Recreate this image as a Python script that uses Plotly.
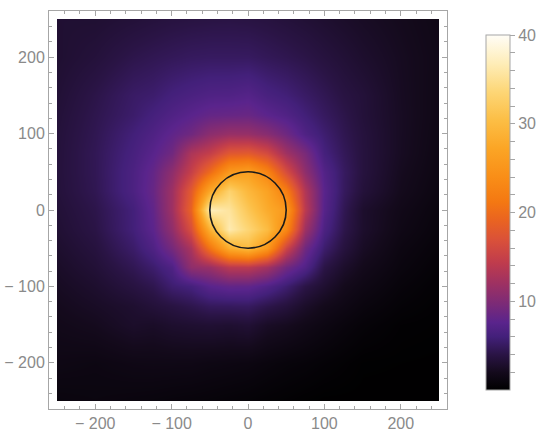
import plotly.graph_objects as go

# grid positions (sample points)
x_pos = [-250, -200, -150, -125, -100, -75, -50, -25, 0, 25, 50, 75, 100, 125, 150, 200, 250]
y_pos = [-250, -200, -150, -125, -100, -75, -50, -25, 0, 25, 50, 75, 100, 125, 150, 200, 250]

# field values, one row per y position (bottom to top)
field = [
    [1.0, 1.09, 0.98, 0.92, 0.83, 0.76, 0.69, 0.59, 0.5, 0.36, 0.26, 0.14, 0.05, 0.05, 0.05, 0.05, 0.05],
    [1.42, 1.3, 1.51, 1.55, 1.54, 1.52, 1.39, 1.31, 1.2, 0.99, 0.79, 0.66, 0.47, 0.3, 0.13, 0.1, 0.07],
    [1.79, 2.08, 2.7, 2.56, 2.87, 3.01, 3.12, 3.01, 3.2, 2.48, 2.15, 1.69, 1.3, 0.91, 0.6, 0.24, 0.16],
    [2.03, 2.47, 2.97, 3.43, 3.83, 4.29, 4.84, 4.91, 5.0, 4.22, 3.57, 2.63, 1.9, 1.43, 0.99, 0.48, 0.23],
    [2.3, 2.88, 3.8, 4.37, 5.6, 6.15, 7.55, 8.1, 8.0, 7.0, 5.63, 4.03, 3.0, 1.97, 1.45, 0.73, 0.33],
    [2.58, 3.31, 4.54, 5.49, 6.85, 11.0, 11.7, 13.9, 14.0, 12.3, 9.05, 7.0, 4.03, 2.74, 1.9, 1.01, 0.49],
    [2.87, 3.67, 5.34, 6.81, 9.31, 12.8, 21.0, 28.2, 30.0, 25.4, 15.5, 8.9, 5.48, 3.64, 2.42, 1.23, 0.68],
    [3.14, 4.02, 5.96, 7.69, 11.1, 16.7, 29.0, 36.4, 33.5, 30.1, 23.3, 12.0, 6.65, 4.22, 2.79, 1.52, 0.86],
    [3.3, 4.2, 6.0, 8.0, 12.0, 19.0, 37.0, 35.5, 31.5, 28.0, 25.5, 14.0, 7.3, 4.5, 2.8, 1.7, 1.0],
    [3.48, 4.48, 6.61, 8.38, 11.95, 18.0, 27.7, 33.1, 29.5, 26.8, 22.0, 13.3, 7.5, 4.91, 3.44, 1.98, 1.2],
    [3.52, 4.57, 6.59, 8.16, 10.92, 14.9, 20.0, 25.6, 26.5, 22.8, 16.5, 10.96, 7.09, 4.99, 3.66, 2.13, 1.33],
    [3.51, 4.59, 6.3, 7.46, 8.97, 13.0, 14.75, 17.7, 18.0, 16.1, 12.1, 9.5, 6.15, 4.71, 3.66, 2.29, 1.42],
    [3.47, 4.47, 5.95, 6.83, 7.9, 8.97, 10.77, 11.6, 11.5, 10.5, 8.85, 6.85, 5.6, 4.43, 3.6, 2.32, 1.5],
    [3.37, 4.32, 5.41, 6.17, 6.9, 7.57, 8.23, 8.38, 8.5, 7.69, 6.96, 5.92, 4.98, 4.17, 3.43, 2.33, 1.57],
    [3.24, 4.12, 5.2, 5.49, 6.1, 6.51, 6.86, 6.92, 7.2, 6.39, 5.88, 5.19, 4.53, 3.84, 3.4, 2.28, 1.61],
    [3.03, 3.5, 4.23, 4.5, 4.73, 4.94, 5.02, 5.01, 5.0, 4.69, 4.41, 4.08, 3.66, 3.25, 2.85, 2.2, 1.68],
    [3.1, 3.09, 3.4, 3.59, 3.76, 3.86, 3.94, 3.98, 3.9, 3.75, 3.51, 3.24, 2.97, 2.68, 2.42, 2.01, 1.6],
]

circle_radius = 50
axis_ticks = [-200, -100, 0, 100, 200]
axis_labels = ["\u2212 200", "\u2212 100", "0", "100", "200"]
bar_ticks = list(range(2, 41, 2))
bar_labels = [str(v) if v % 10 == 0 else "" for v in bar_ticks]

# sunset-like scale (black -> purple -> orange -> white)
sunset = [
    [0.00, "#000000"], [0.05, "#140a1c"], [0.10, "#2a1445"], [0.15, "#43207a"],
    [0.19, "#5a248c"], [0.24, "#7a2a78"], [0.30, "#9e3162"], [0.36, "#c03c4c"],
    [0.42, "#d9503a"], [0.48, "#ea6420"], [0.53, "#f47812"], [0.60, "#f98e17"],
    [0.68, "#fba525"], [0.76, "#fcbe45"], [0.84, "#fdd676"], [0.92, "#feedb8"],
    [1.00, "#fffdf7"],
]

W, H = 546, 439
GREY = "#a6a6a6"
LABEL = dict(family="Liberation Sans, Arial, sans-serif", size=16, color="#8a8a8a")

fig = go.Figure()

fig.add_trace(go.Heatmap(
    x=x_pos, y=y_pos, z=field,
    zmin=0, zmax=40, zsmooth="best",
    colorscale=sunset,
    colorbar=dict(
        x=486 / W, xanchor="left", y=1 - 212.5 / H, yanchor="middle",
        len=355 / H, lenmode="fraction", thickness=24, thicknessmode="pixels",
        outlinecolor=GREY, outlinewidth=1, xpad=0, ypad=0,
        ticks="outside", ticklen=5, tickcolor=GREY,
        tickvals=bar_ticks, ticktext=bar_labels, tickfont=LABEL,
    ),
    hoverinfo="skip",
))

# empty trace so the framed axes get drawn
fig.add_trace(go.Scatter(x=[None], y=[None], xaxis="x2", yaxis="y2",
                         showlegend=False, hoverinfo="skip"))

fig.add_shape(type="circle", xref="x", yref="y",
              x0=-circle_radius, x1=circle_radius, y0=-circle_radius, y1=circle_radius,
              line=dict(color="#1a1a1a", width=1.6))

frame = dict(
    showline=True, linecolor=GREY, linewidth=1, mirror="allticks",
    ticks="inside", ticklen=5, tickcolor=GREY,
    tickvals=axis_ticks, ticktext=axis_labels, tickfont=LABEL,
    minor=dict(ticks="inside", ticklen=3, dtick=20, tick0=0, tickcolor=GREY),
    showgrid=False, zeroline=False, range=[-260.5, 260.5], fixedrange=True,
)

fig.update_layout(
    width=W, height=H,
    margin=dict(l=0, r=0, t=0, b=0),
    paper_bgcolor="white", plot_bgcolor="rgba(0,0,0,0)",
    showlegend=False,
    xaxis=dict(domain=[57 / W, 439 / W], range=[-250, 250], visible=False),
    yaxis=dict(domain=[1 - 401 / H, 1 - 19 / H], range=[-250, 250], visible=False),
    xaxis2=dict(domain=[49 / W, 447 / W], anchor="y2", **frame),
    yaxis2=dict(domain=[1 - 409 / H, 1 - 11 / H], anchor="x2", **frame),
)

# drop the browser's default body margin so the figure sits at the page corner
fig.write_html("out.html", config={"displayModeBar": False},
               post_script="document.body.style.margin = '0';")
